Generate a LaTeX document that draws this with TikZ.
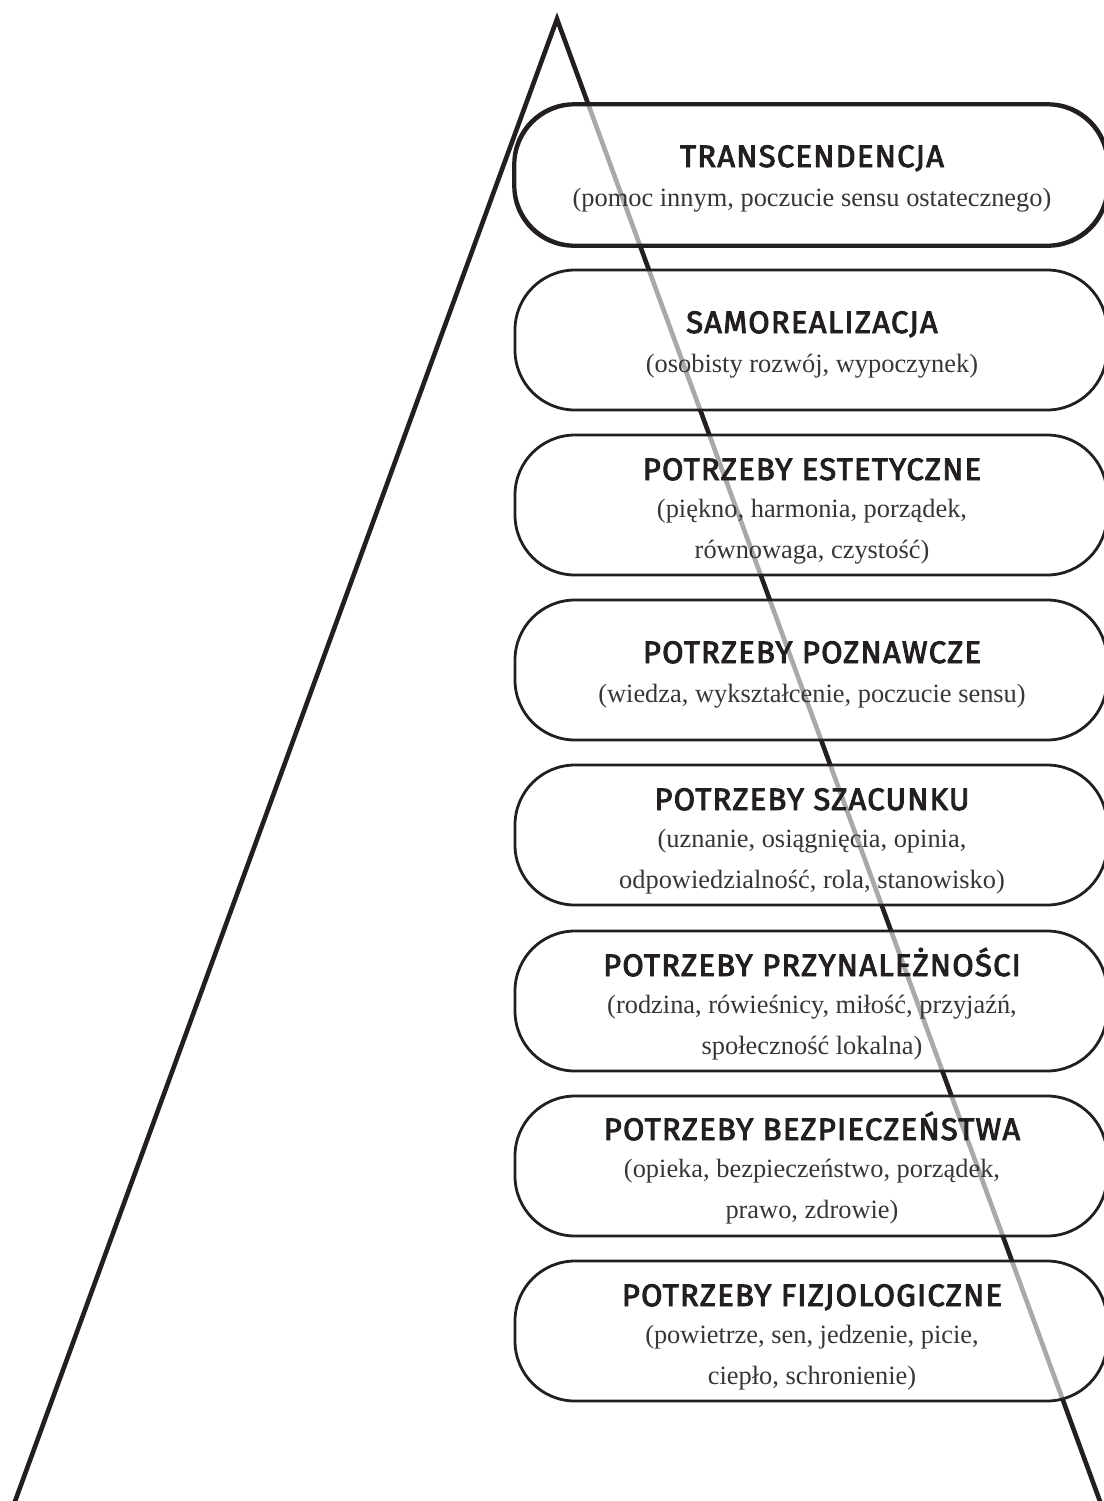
\documentclass[tikz,border=0pt]{standalone}
\usepackage{fontspec}
\newfontfamily\titlefont[FakeBold=3,LetterSpace=4]{Fira Sans}
\newfontfamily\subfont{Liberation Serif}
\definecolor{ink}{HTML}{231F20}
\definecolor{subink}{HTML}{383536}
\definecolor{ghost}{HTML}{A9A9A9}
\begin{document}
\begin{tikzpicture}[x=0.5pt,y=-0.5pt,
  tri/.style={draw=ink, line width=2.3pt, line join=miter},
  ghostline/.style={draw=ghost, line width=2.3pt},
  box/.style={draw=ink, line width=1.4pt, rounded corners=30pt, fill=white,
    minimum width=296pt, minimum height=70pt, inner sep=0pt,
    path picture={\draw[ghostline] (apex) -- (br);}},
  ttl/.style={anchor=base, text=ink, inner sep=0pt, font=\titlefont\fontsize{15.5}{18}\selectfont},
  sub/.style={anchor=base, text=subink, inner sep=0pt, font=\subfont\fontsize{13.2}{16}\selectfont}]
\useasboundingbox (0,0) rectangle (1104,1501);
\clip (0,0) rectangle (1104,1501);
\coordinate (apex) at (557,19);
\coordinate (bl) at (10,1515);
\coordinate (br) at (1105,1515);
\draw[tri] (bl) -- (apex) -- (br);
% boxes
\node[box] (b1) at (811,175) {};
\node[box] (b2) at (811,340) {};
\node[box] (b3) at (811,505) {};
\node[box] (b4) at (811,670) {};
\node[box] (b5) at (811,835) {};
\node[box] (b6) at (811,1001) {};
\node[box] (b7) at (811,1166) {};
\node[box] (b8) at (811,1331) {};
% left side shows through the top box
\begin{scope}
\clip[rounded corners=30pt] (b1.south west) rectangle (b1.north east);
\draw[tri] (bl) -- (apex);
\end{scope}
\draw[ink, line width=1.4pt, rounded corners=30pt] (b1.south west) rectangle (b1.north east);
% texts
\node[ttl] (t1) at (812,167) {TRANSCENDENCJA};
\node[sub] (s1) at (812,206) {(pomoc innym, poczucie sensu ostatecznego)};
\node[ttl] (t2) at (812,333) {SAMOREALIZACJA};
\node[sub] (s2) at (812,372) {(osobisty rozwój, wypoczynek)};
\node[ttl] (t3) at (812,480) {POTRZEBY ESTETYCZNE};
\node[sub] (s3a) at (812,517) {(piękno, harmonia, porządek,};
\node[sub] (s3b) at (812,558) {równowaga, czystość)};
\node[ttl] (t4) at (812,663) {POTRZEBY POZNAWCZE};
\node[sub] (s4) at (812,702) {(wiedza, wykształcenie, poczucie sensu)};
\node[ttl] (t5) at (812,810) {POTRZEBY SZACUNKU};
\node[sub] (s5a) at (812,847) {(uznanie, osiągnięcia, opinia,};
\node[sub] (s5b) at (812,888) {odpowiedzialność, rola, stanowisko)};
\node[ttl] (t6) at (812,976) {POTRZEBY PRZYNALEŻNOŚCI};
\node[sub] (s6a) at (812,1013) {(rodzina, rówieśnicy, miłość, przyjaźń,};
\node[sub] (s6b) at (812,1054) {społeczność lokalna)};
\node[ttl] (t7) at (812,1140) {POTRZEBY BEZPIECZEŃSTWA};
\node[sub] (s7a) at (812,1177) {(opieka, bezpieczeństwo, porządek,};
\node[sub] (s7b) at (812,1218) {prawo, zdrowie)};
\node[ttl] (t8) at (812,1306) {POTRZEBY FIZJOLOGICZNE};
\node[sub] (s8a) at (812,1343) {(powietrze, sen, jedzenie, picie,};
\node[sub] (s8b) at (812,1384) {ciepło, schronienie)};
\end{tikzpicture}
\end{document}
